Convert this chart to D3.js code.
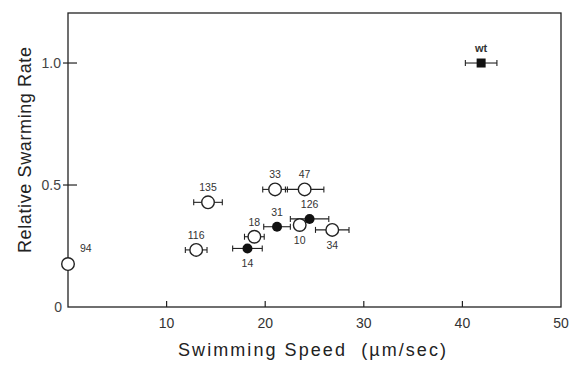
<!DOCTYPE html>
<html><head><meta charset="utf-8">
<script src="https://cdn.jsdelivr.net/npm/d3@7"></script>
<style>body{margin:0;background:#fff}</style>
</head><body>
<svg id="c" width="572" height="365"></svg>
<script>
const labels   = ["94","116","135","33","47","31","18","14","10","126","34","wt"];
const speed    = [0, 13.0, 14.2, 21.0, 24.0, 21.2, 18.9, 18.2, 23.5, 24.5, 26.8, 41.9];
const speedErr = [0, 1.1, 1.45, 1.25, 1.95, 1.35, 1.0, 1.5, 0, 1.95, 1.7, 1.6];
const rate     = [0.176, 0.234, 0.429, 0.482, 0.482, 0.329, 0.288, 0.240, 0.336, 0.361, 0.316, 1.0];
const marker   = ["open","open","open","open","open","filled","open","filled","open","filled","open","square"];
const labelPos = ["ur","above","above","above","above","above","above","below","below","above","below","above"];
const xTicks = [10,20,30,40,50];
const yTicks = [0,0.5,1.0];
const yTickLabels = ["0","0.5","1.0"];

const svg = d3.select("#c");
const m = {l:68, r:11, t:13, b:58};
const W = 572, H = 365;
const x = d3.scaleLinear().domain([0,50]).range([m.l, W-m.r]);
const y = d3.scaleLinear().domain([0,1.205]).range([H-m.b, m.t]);
const ink = "#222";
const font = "'Liberation Sans', Arial, sans-serif";

// frame
svg.append("rect").attr("x",m.l).attr("y",m.t).attr("width",W-m.r-m.l).attr("height",H-m.b-m.t)
  .attr("fill","none").attr("stroke",ink).attr("stroke-width",1.3);

// x ticks
const gx = svg.append("g").attr("transform",`translate(0,${H-m.b})`);
gx.selectAll("line").data(xTicks.slice(0,4)).join("line")
  .attr("x1",d=>x(d)).attr("x2",d=>x(d)).attr("y1",0).attr("y2",-6).attr("stroke",ink).attr("stroke-width",1.2);
gx.selectAll("text").data(xTicks).join("text")
  .attr("x",d=>x(d)).attr("y",21).attr("text-anchor","middle")
  .attr("font-family",font).attr("font-size",14).attr("fill","#333").text(d=>d);

// y ticks
const gy = svg.append("g");
gy.selectAll("line").data(yTicks.slice(1)).join("line")
  .attr("x1",m.l-5).attr("x2",m.l+9).attr("y1",d=>y(d)).attr("y2",d=>y(d)).attr("stroke",ink).attr("stroke-width",1.2);
gy.selectAll("text").data(yTicks).join("text")
  .attr("x",d=> d===0 ? m.l-6 : m.l-7).attr("y",d=>y(d)+5).attr("text-anchor","end")
  .attr("font-family",font).attr("font-size",14).attr("fill","#444").text((d,i)=>yTickLabels[i]);

// axis titles
svg.append("text").attr("x",178).attr("y",356)
  .attr("font-family",font).attr("font-size",18).attr("fill","#222")
  .attr("textLength",268).attr("lengthAdjust","spacing")
  .attr("xml:space","preserve").text("Swimming Speed  (\u00b5m/sec)");
svg.append("text").attr("transform","translate(31,253) rotate(-90)")
  .attr("font-family",font).attr("font-size",18).attr("fill","#222")
  .attr("textLength",206).attr("lengthAdjust","spacing")
  .text("Relative Swarming Rate");

const data = labels.map((l,i)=>({l, sx:speed[i], se:speedErr[i], r:rate[i], mk:marker[i], lp:labelPos[i]}));

// error bars
const eb = svg.append("g").attr("stroke",ink).attr("stroke-width",1.1);
data.filter(d=>d.se>0).forEach(d=>{
  const cy = y(d.r);
  eb.append("line").attr("x1",x(d.sx-d.se)).attr("x2",x(d.sx+d.se)).attr("y1",cy).attr("y2",cy);
  [d.sx-d.se, d.sx+d.se].forEach(v=>eb.append("line").attr("x1",x(v)).attr("x2",x(v)).attr("y1",cy-3).attr("y2",cy+3));
});

// markers
const g = svg.append("g");
data.forEach(d=>{
  const cx = x(d.sx), cy = y(d.r);
  if (d.mk==="square") {
    g.append("rect").attr("x",cx-4.5).attr("y",cy-4.5).attr("width",9).attr("height",9).attr("fill","#111");
  } else if (d.mk==="filled") {
    g.append("circle").attr("cx",cx).attr("cy",cy).attr("r",5).attr("fill","#111");
  } else {
    g.append("circle").attr("cx",cx).attr("cy",cy).attr("r",6.3).attr("fill","#fff").attr("stroke",ink).attr("stroke-width",1.4);
  }
  let tx = cx, ty = cy - 11, anchor = "middle";
  if (d.lp==="below") ty = cy + 19;
  if (d.lp==="ur") { tx = cx + 12; ty = cy - 12; anchor = "start"; }
  g.append("text").attr("x",tx).attr("y",ty).attr("text-anchor",anchor)
    .attr("font-family",font).attr("font-size",d.l==="wt"?11:10.5)
    .attr("font-weight",d.l==="wt"?"bold":"normal").attr("fill","#333").text(d.l);
});
</script>
</body></html>
